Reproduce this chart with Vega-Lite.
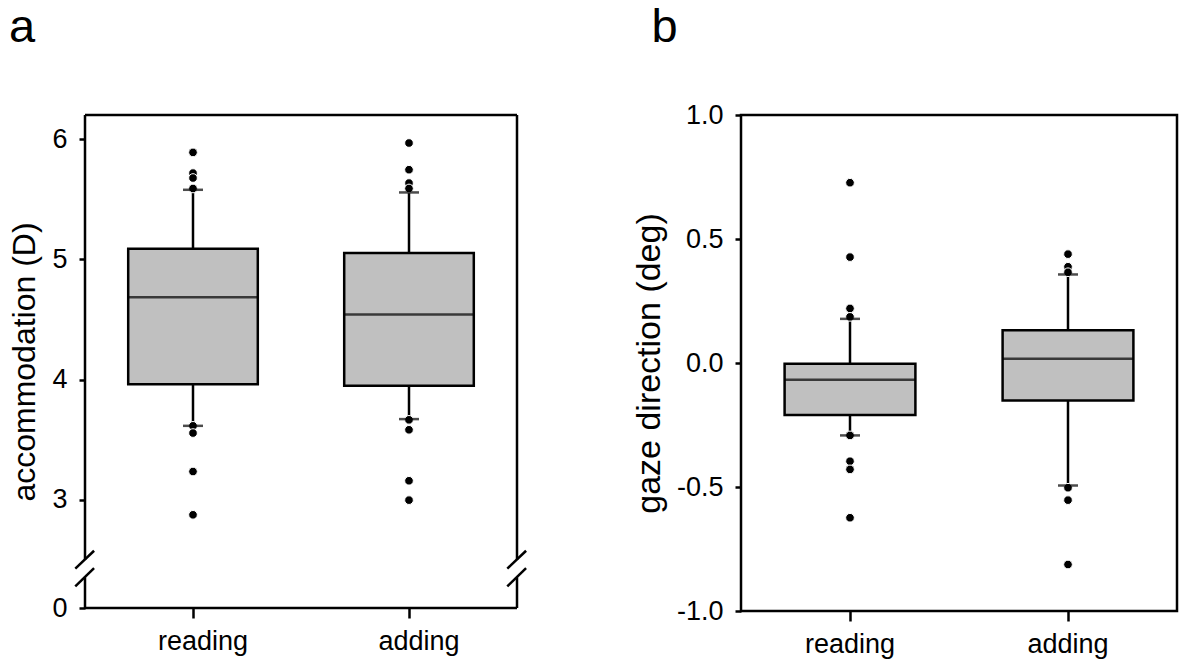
{
  "$schema": "https://vega.github.io/schema/vega-lite/v6.json",
  "background": "white",
  "autosize": {"type": "pad"},
  "padding": {"left": 8, "top": 2, "right": 5, "bottom": 5},
  "bounds": "flush",
  "spacing": 224,
  "config": {
    "font": "Liberation Sans",
    "view": {"stroke": "black", "strokeWidth": 2.5},
    "axis": {
      "domain": false, "grid": false, "tickColor": "black", "tickWidth": 2.5,
      "labelColor": "black", "labelFont": "Liberation Sans", "titleFont": "Liberation Sans",
      "titleFontWeight": "normal", "titleColor": "black"
    },
    "axisY": {"tickSize": 6, "labelFontSize": 27, "labelPadding": 12, "titleFontSize": 32, "titlePadding": 10},
    "axisX": {"tickSize": 10, "labelFontSize": 27, "labelPadding": 10, "labelAngle": 0},
    "title": {"fontSize": 47, "fontWeight": "normal", "color": "black", "font": "Liberation Sans", "anchor": "start", "frame": "bounds", "baseline": "top"}
  },
  "datasets": {
    "sumA": [
      {"task": "reading", "lower": 3.615, "q1": 3.961, "median": 4.684, "q3": 5.087, "upper": 5.578},
      {"task": "adding", "lower": 3.671, "q1": 3.948, "median": 4.540, "q3": 5.052, "upper": 5.556}
    ],
    "outA": [
      {"task": "reading", "value": 5.889},
      {"task": "reading", "value": 5.717},
      {"task": "reading", "value": 5.676},
      {"task": "reading", "value": 5.589},
      {"task": "reading", "value": 3.615},
      {"task": "reading", "value": 3.555},
      {"task": "reading", "value": 3.235},
      {"task": "reading", "value": 2.875},
      {"task": "adding", "value": 5.967},
      {"task": "adding", "value": 5.745},
      {"task": "adding", "value": 5.634},
      {"task": "adding", "value": 5.589},
      {"task": "adding", "value": 3.665},
      {"task": "adding", "value": 3.582},
      {"task": "adding", "value": 3.158},
      {"task": "adding", "value": 2.997}
    ],
    "frameA": [
      {"part": "top", "x": 0, "x2": 1, "y": 6.2, "y2": 6.2},
      {"part": "bottom", "x": 0, "x2": 1, "y": 2.1, "y2": 2.1},
      {"part": "left upper", "x": 0, "x2": 0, "y": 2.5, "y2": 6.2},
      {"part": "left lower", "x": 0, "x2": 0, "y": 2.1, "y2": 2.355},
      {"part": "right upper", "x": 1, "x2": 1, "y": 2.5, "y2": 6.2},
      {"part": "right lower", "x": 1, "x2": 1, "y": 2.1, "y2": 2.355},
      {"part": "left slash 1", "x": -0.0225, "x2": 0.021, "y": 2.427, "y2": 2.576},
      {"part": "left slash 2", "x": -0.0225, "x2": 0.021, "y": 2.279, "y2": 2.432},
      {"part": "right slash 1", "x": 0.9775, "x2": 1.021, "y": 2.427, "y2": 2.576},
      {"part": "right slash 2", "x": 0.9775, "x2": 1.021, "y": 2.279, "y2": 2.432}
    ],
    "sumB": [
      {"task": "reading", "lower": -0.292, "q1": -0.21, "median": -0.068, "q3": -0.003, "upper": 0.178},
      {"task": "adding", "lower": -0.494, "q1": -0.151, "median": 0.017, "q3": 0.132, "upper": 0.357}
    ],
    "outB": [
      {"task": "reading", "value": 0.727},
      {"task": "reading", "value": 0.427},
      {"task": "reading", "value": 0.22},
      {"task": "reading", "value": 0.186},
      {"task": "reading", "value": -0.292},
      {"task": "reading", "value": -0.396},
      {"task": "reading", "value": -0.429},
      {"task": "reading", "value": -0.624},
      {"task": "adding", "value": 0.439},
      {"task": "adding", "value": 0.388},
      {"task": "adding", "value": 0.366},
      {"task": "adding", "value": -0.503},
      {"task": "adding", "value": -0.553},
      {"task": "adding", "value": -0.8125}
    ]
  },
  "hconcat": [
    {
      "width": 432,
      "height": 493,
      "title": {"text": "a", "offset": 62},
      "view": {"stroke": null},
      "resolve": {"scale": {"x": "independent"}},
      "layer": [
        {
          "data": {"name": "frameA"},
          "mark": {"type": "rule", "color": "black", "strokeWidth": 2.5},
          "encoding": {
            "x": {"field": "x", "type": "quantitative", "scale": {"domain": [0, 1], "nice": false, "zero": false}, "axis": null},
            "x2": {"field": "x2"},
            "y": {"field": "y", "type": "quantitative", "scale": {"domain": [2.1, 6.2], "nice": false, "zero": false},
                  "title": "accommodation (D)",
                  "axis": {"values": [2.1, 3, 4, 5, 6], "labelExpr": "datum.value < 2.5 ? '0' : format(datum.value, 'd')"}},
            "y2": {"field": "y2"}
          }
        },
        {
          "layer": [
            {
              "data": {"name": "sumA"},
              "mark": {"type": "rule", "color": "black", "strokeWidth": 2.5},
              "encoding": {
                "y": {"field": "lower", "type": "quantitative", "title": "accommodation (D)"},
                "y2": {"field": "upper"}
              }
            },
            {
              "data": {"name": "sumA"},
              "mark": {"type": "bar", "fill": "#c0c0c0", "stroke": "black", "strokeWidth": 2.5, "width": {"band": 0.6}},
              "encoding": {
                "y": {"field": "q1", "type": "quantitative", "title": "accommodation (D)"},
                "y2": {"field": "q3"}
              }
            },
            {
              "data": {"name": "sumA"},
              "mark": {"type": "tick", "color": "black", "thickness": 2.5, "size": 130},
              "encoding": {"y": {"field": "median", "type": "quantitative", "title": "accommodation (D)"}}
            },
            {
              "data": {"name": "outA"},
              "mark": {"type": "point", "filled": true, "fill": "black", "stroke": "white", "strokeWidth": 1, "size": 75, "opacity": 1},
              "encoding": {
                "y": {"field": "value", "type": "quantitative", "title": "accommodation (D)"}
              }
            },
            {
              "data": {"name": "sumA"},
              "mark": {"type": "tick", "color": "black", "thickness": 2.5, "size": 20},
              "encoding": {"y": {"field": "upper", "type": "quantitative", "title": "accommodation (D)"}}
            },
            {
              "data": {"name": "sumA"},
              "mark": {"type": "tick", "color": "black", "thickness": 2.5, "size": 20},
              "encoding": {"y": {"field": "lower", "type": "quantitative", "title": "accommodation (D)"}}
            }
          ],
          "encoding": {
            "x": {"field": "task", "type": "nominal", "sort": ["reading", "adding"],
                  "scale": {"paddingInner": 0, "paddingOuter": 0}, "title": null,
                  "axis": {"orient": "bottom", "labelOffset": 10}}
          }
        }
      ]
    },
    {
      "width": 436,
      "height": 496,
      "title": {"text": "b", "offset": 49, "dx": 19},
      "layer": [
        {
          "data": {"name": "sumB"},
          "mark": {"type": "rule", "color": "black", "strokeWidth": 2.5},
          "encoding": {
            "y": {"field": "lower", "type": "quantitative", "scale": {"domain": [-1, 1], "nice": false},
                  "title": "gaze direction (deg)",
                  "axis": {"values": [-1, -0.5, 0, 0.5, 1], "titleFontSize": 34,
                           "labelExpr": "datum.value < 0 ? '-' + format(-datum.value, '.1f') : format(datum.value, '.1f')"}},
            "y2": {"field": "upper"}
          }
        },
        {
          "data": {"name": "sumB"},
          "mark": {"type": "bar", "fill": "#c0c0c0", "stroke": "black", "strokeWidth": 2.5, "width": {"band": 0.6}},
          "encoding": {
            "y": {"field": "q1", "type": "quantitative", "title": "gaze direction (deg)"},
            "y2": {"field": "q3"}
          }
        },
        {
          "data": {"name": "sumB"},
          "mark": {"type": "tick", "color": "black", "thickness": 2.5, "size": 131},
          "encoding": {"y": {"field": "median", "type": "quantitative", "title": "gaze direction (deg)"}}
        },
        {
          "data": {"name": "outB"},
          "mark": {"type": "point", "filled": true, "fill": "black", "stroke": "white", "strokeWidth": 1, "size": 75, "opacity": 1},
          "encoding": {
            "y": {"field": "value", "type": "quantitative", "title": "gaze direction (deg)"}
          }
        },
        {
          "data": {"name": "sumB"},
          "mark": {"type": "tick", "color": "black", "thickness": 2.5, "size": 20},
          "encoding": {"y": {"field": "upper", "type": "quantitative", "title": "gaze direction (deg)"}}
        },
        {
          "data": {"name": "sumB"},
          "mark": {"type": "tick", "color": "black", "thickness": 2.5, "size": 20},
          "encoding": {"y": {"field": "lower", "type": "quantitative", "title": "gaze direction (deg)"}}
        }
      ],
      "encoding": {
        "x": {"field": "task", "type": "nominal", "sort": ["reading", "adding"],
              "scale": {"paddingInner": 0, "paddingOuter": 0}, "title": null}
      }
    }
  ]
}
